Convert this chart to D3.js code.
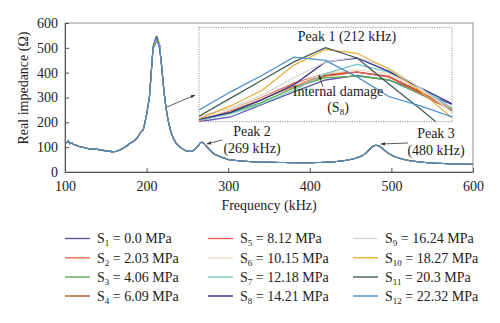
<!DOCTYPE html>
<html>
<head>
<meta charset="utf-8">
<script src="https://cdn.jsdelivr.net/npm/d3@7/dist/d3.min.js"></script>
<style>
  html, body { margin: 0; padding: 0; background: #fff; }
</style>
</head>
<body>
<svg id="chart" width="500" height="323"></svg>
<script>
// Shared impedance curve (kHz, Ω) below and above the first resonance window
const lowFreq  = [100,102,104,106,108,110,113,116,120,125,130,135,140,145,150,155,160,165,170,175,180,184,187,190,193,196,198,200,202,203.5,205,206,207];
const lowReal  = [122,118,126,114,118,112,109,104,101,97,93,92,91,88,85,83,82,86,94,104,116,124,132,145,160,172,200,232,272,305,370,415,458];
const highFreq = [217,218,219,220,221,222,224,226,228,230,233,236,240,244,248,252,255,258,261,264,266,268,270,273,277,281,286,291,296,300,310,320,330,340,350,370,390,410,430,445,455,462,467,471,475,478,481,484,487,491,496,501,510,520,535,550,570,600];
const highReal = [470,440,405,370,335,305,255,215,185,160,135,117,103,93,86,83,83,88,97,109,117,120,116,105,90,77,67,60,55,50,46,43,41,40,39,38,37,38,41,47,54,62,72,84,97,105,108,106,100,89,76,66,55,47,40,36,33,31];

// Resonance window around peak 1 (1 kHz steps), one row per stress level
const peakFreq = [208,209,210,211,212,213,214,215,216];
const s1  = [500,503,511,519,526.5,529.5,526.5,519,511];
const s2  = [500.5,506,514.5,522.5,529,531.5,529,519,507.5];
const s3  = [501,505.5,512.5,521.5,528,529,526.5,517.5,507.5];
const s4  = [501,507,515,524,529.5,531.5,528.5,519,508.5];
const s5  = [500.5,507.5,515.5,524.5,530.5,531.5,528.5,518,507];
const s6  = [501.5,507.5,515,523.5,530.5,533,530.5,520,508.5];
const s7  = [501,505,511.5,520,530.5,536.5,531.5,521.5,508.5];
const s8  = [501.5,506,514,523.5,538,540.5,532,521.5,511.5];
const s9  = [503.5,508.5,517,528,538,541,534,521.5,506];
const s10 = [502,510,520,536,546,543.5,533.5,519.5,502.5];
const s11 = [503.5,515,526.5,538,547,540.5,524,508,491.5];
const s12 = [507.5,519,529.5,541,539,528.5,516,510,503];
const peakSeries = [s1,s2,s3,s4,s5,s6,s7,s8,s9,s10,s11,s12];

const stressIndex = ["1","2","3","4","5","6","7","8","9","10","11","12"];
const stressMPa   = ["0.0","2.03","4.06","6.09","8.12","10.15","12.18","14.21","16.24","18.27","20.3","22.32"];
const colors = ["#5d56a8","#e4714c","#5caa4c","#a9531f","#e2625c","#f8dcc0","#7cc9c8","#2e2f8f","#d8d8d8","#e8ae3c","#405c5a","#4c8fd0"];

const xTicks = [100,200,300,400,500,600];
const yTicks = [0,100,200,300,400,500,600];

const FONT = "'Liberation Serif', 'Times New Roman', serif";
const FS = 14;

const svg = d3.select("#chart").attr("font-family", FONT);
const x = d3.scaleLinear().domain([100,600]).range([65,473]);
const y = d3.scaleLinear().domain([0,600]).range([172,23]);

// Build full series: shared flanks + per-series resonance window
const series = peakSeries.map(vals => {
  const pts = [];
  lowFreq.forEach((f,i) => pts.push([f, lowReal[i]]));
  peakFreq.forEach((f,i) => pts.push([f, vals[i]]));
  highFreq.forEach((f,i) => pts.push([f, highReal[i]]));
  return pts;
});

// Plot frame
svg.append("rect").attr("x",65).attr("y",23).attr("width",408).attr("height",149)
  .attr("fill","none").attr("stroke","#8f8f8f").attr("stroke-width",1);

// Axes
const xAxis = svg.append("g").attr("transform","translate(0,172)")
  .call(d3.axisBottom(x).tickValues(xTicks).tickSizeInner(-4).tickSizeOuter(0).tickPadding(9).tickFormat(d3.format("d")));
const yAxis = svg.append("g").attr("transform","translate(65,0)")
  .call(d3.axisLeft(y).tickValues(yTicks).tickSizeInner(-4).tickSizeOuter(0).tickPadding(7).tickFormat(d3.format("d")));
[xAxis,yAxis].forEach(g => {
  g.attr("font-family", FONT).attr("font-size", FS);
  g.select(".domain").attr("stroke","#555");
  g.selectAll(".tick line").attr("stroke","#555");
  g.selectAll(".tick text").attr("fill","#222");
});

// Curves
const line = d3.line().x(d => x(d[0])).y(d => y(d[1])).curve(d3.curveMonotoneX);
svg.append("g").selectAll("path").data(series).join("path")
  .attr("d", line).attr("fill","none")
  .attr("stroke",(d,i) => colors[i]).attr("stroke-width",1.1);

function label(xp, yp, str) {
  return svg.append("text").attr("x",xp).attr("y",yp).attr("text-anchor","middle")
    .attr("font-family",FONT).attr("font-size",FS).attr("fill","#222").text(str);
}

// Axis titles
label(269,210,"Frequency (kHz)");
svg.append("text").attr("transform","translate(28,88) rotate(-90)").attr("text-anchor","middle")
  .attr("font-family",FONT).attr("font-size",FS).attr("fill","#222").text("Real impedance (Ω)");

// Arrow marker
const defs = svg.append("defs");
defs.append("marker").attr("id","arrow").attr("viewBox","0 0 10 10")
  .attr("refX",9).attr("refY",5).attr("markerWidth",6).attr("markerHeight",6)
  .attr("orient","auto-start-reverse")
  .append("path").attr("d","M0,1.5 L10,5 L0,8.5 Z").attr("fill","#333");

function arrow(x1,y1,x2,y2) {
  svg.append("line").attr("x1",x1).attr("y1",y1).attr("x2",x2).attr("y2",y2)
    .attr("stroke","#333").attr("stroke-width",0.8).attr("marker-end","url(#arrow)");
}

// Inset: zoom on peak 1
const ix = d3.scaleLinear().domain([208,216]).range([199,452]);
const iy = d3.scaleLinear().domain([500,560]).range([121.7,27.3]);
defs.append("clipPath").attr("id","insetClip").append("rect")
  .attr("x",199).attr("y",27.3).attr("width",253).attr("height",94.4);
svg.append("rect").attr("x",199).attr("y",27.3).attr("width",253).attr("height",94.4)
  .attr("fill","#fff").attr("stroke","none");
const insetLine = d3.line().x((d,i) => ix(peakFreq[i])).y(d => iy(d));
svg.append("g").attr("clip-path","url(#insetClip)")
  .selectAll("path").data(peakSeries).join("path")
  .attr("d", insetLine).attr("fill","none")
  .attr("stroke",(d,i) => colors[i]).attr("stroke-width",1.3);
svg.append("rect").attr("x",199).attr("y",27.3).attr("width",253).attr("height",94.4)
  .attr("fill","none").attr("stroke","#8a8a8a").attr("stroke-width",0.9).attr("stroke-dasharray","1.2,1.2");

// Annotations
label(347,41,"Peak 1 (212 kHz)");
label(338,96,"Internal damage");
const s8Label = label(338,112,null);
s8Label.append("tspan").text("(S");
s8Label.append("tspan").attr("font-size",9).attr("dy",3).text("8");
s8Label.append("tspan").attr("dy",-3).text(")");
arrow(323,87,319,75);
arrow(167,107,195,95);

label(252,136,"Peak 2");
label(252,153,"(269 kHz)");
arrow(222,140,207,144);

label(436,138,"Peak 3");
label(436,155,"(480 kHz)");
arrow(408,143,381,144);

// Legend: three columns of four entries
const colX = [65,208,353];
const rowY = [238.5,257.8,277,296];
const legend = svg.append("g").selectAll("g").data(stressIndex).join("g")
  .attr("transform",(d,i) => `translate(${colX[Math.floor(i/4)]},${rowY[i%4]})`);
legend.append("line").attr("x1",0).attr("x2",25).attr("y1",0).attr("y2",0)
  .attr("stroke",(d,i) => colors[i]).attr("stroke-width",1.4);
const lt = legend.append("text").attr("x",32).attr("y",4.8)
  .attr("font-family",FONT).attr("font-size",FS).attr("fill","#222");
lt.append("tspan").text("S");
lt.append("tspan").attr("font-size",9).attr("dy",3).text(d => d);
lt.append("tspan").attr("dy",-3).text((d,i) => " = " + stressMPa[i] + " MPa");
</script>
</body>
</html>
